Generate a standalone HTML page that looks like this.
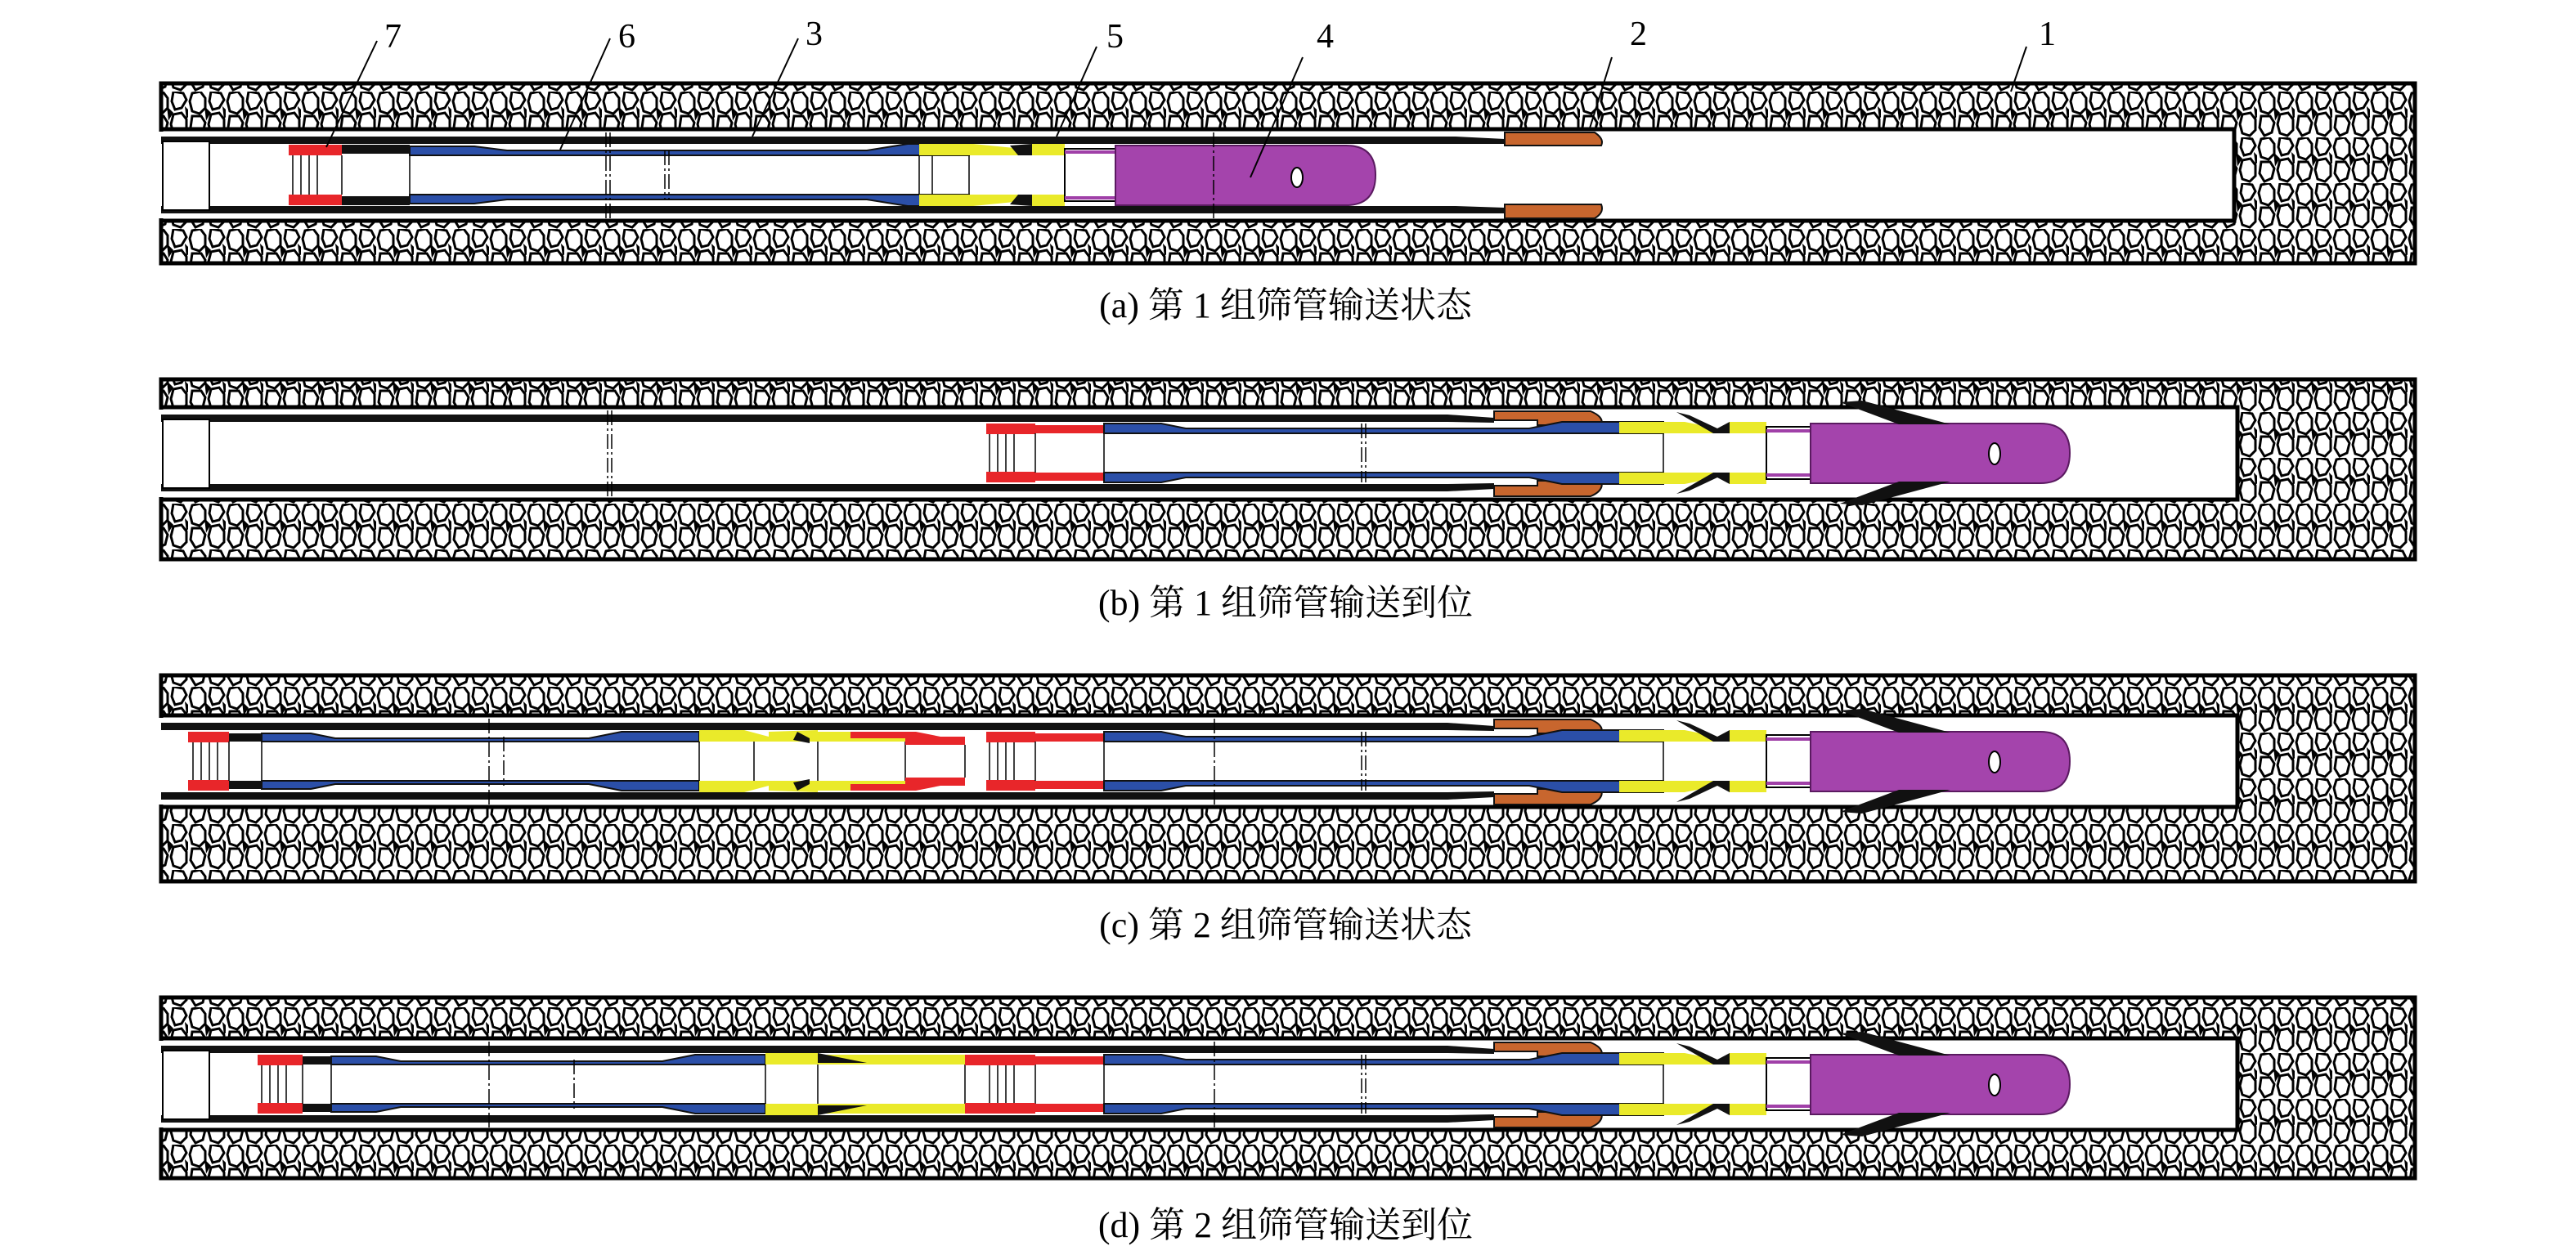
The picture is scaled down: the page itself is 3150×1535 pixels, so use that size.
<!DOCTYPE html>
<html><head><meta charset="utf-8"><style>
html,body{margin:0;padding:0;background:#fff;}
svg{display:block;}
.lbl{font-family:"Liberation Serif",serif;font-size:42px;fill:#000;}
.cap{font-family:"Liberation Serif","Noto Serif CJK SC",serif;font-size:44px;fill:#000;text-anchor:middle;}
</style></head><body>
<svg width="3150" height="1535" viewBox="0 0 3150 1535" xmlns="http://www.w3.org/2000/svg">
<defs>
<pattern id="rock" width="46" height="56" patternUnits="userSpaceOnUse">
<rect width="46" height="56" fill="#fff"/>
<path d="M5,2 L15,0 L21,8 L21,20 L14,27 L5,24 L2,12 Z M28,28 L38,26 L44,34 L44,47 L37,54 L28,51 L25,40 Z M28,0 L40,2 L44,10 L38,20 L30,22 L26,12 Z M5,30 L16,30 L21,38 L18,50 L9,54 L3,44 Z M22,22 L26,26 L23,31 Z M44,22 L48,26 L45,30 Z" fill="none" stroke="#000" stroke-width="3"/>
</pattern>
</defs>

<!-- ===== PANEL BOXES ===== -->
<rect x="197" y="102" width="2756" height="220" fill="url(#rock)" stroke="#000" stroke-width="5"/>
<rect x="197" y="158" width="2535" height="112" fill="#fff" stroke="#000" stroke-width="5"/>
<rect x="192" y="161" width="8" height="106" fill="#fff"/>
<rect x="197" y="464" width="2756" height="220" fill="url(#rock)" stroke="#000" stroke-width="5"/>
<rect x="197" y="498" width="2539" height="113" fill="#fff" stroke="#000" stroke-width="5"/>
<rect x="192" y="501" width="8" height="107" fill="#fff"/>
<rect x="197" y="826" width="2756" height="252" fill="url(#rock)" stroke="#000" stroke-width="5"/>
<rect x="197" y="875" width="2539" height="112" fill="#fff" stroke="#000" stroke-width="5"/>
<rect x="192" y="878" width="8" height="106" fill="#fff"/>
<rect x="197" y="1220" width="2756" height="221" fill="url(#rock)" stroke="#000" stroke-width="5"/>
<rect x="197" y="1270" width="2539" height="112" fill="#fff" stroke="#000" stroke-width="5"/>
<rect x="192" y="1273" width="8" height="106" fill="#fff"/>

<!-- ===== PANEL A (cy=214) ===== -->
<g transform="translate(0,214)">
<path d="M197,-47 L1780,-47 L1840,-44 L1840,-38 L1780,-38 L197,-38 Z" fill="#111"/>
<path d="M197,38 L1780,38 L1840,40 L1840,47 L1780,47 L197,47 Z" fill="#111"/>
<path d="M1840,-52 L1950,-52 Q1962,-44 1958,-36 L1840,-36 Z" fill="#c8662e" stroke="#111" stroke-width="2"/>
<path d="M1840,36 L1958,36 Q1962,46 1950,53 L1840,53 Z" fill="#c8662e" stroke="#111" stroke-width="2"/>
<rect x="199" y="-41" width="57" height="84" fill="#fff" stroke="#000" stroke-width="2"/>
<rect x="353" y="-37" width="65" height="13" fill="#e8262a"/><rect x="418" y="-37" width="83" height="11" fill="#111"/>
<rect x="353" y="24" width="65" height="13" fill="#e8262a"/><rect x="418" y="26" width="83" height="11" fill="#111"/>
<g stroke="#000" stroke-width="1.5"><line x1="358" y1="-24" x2="358" y2="24"/><line x1="368" y1="-24" x2="368" y2="24"/><line x1="378" y1="-24" x2="378" y2="24"/><line x1="388" y1="-24" x2="388" y2="24"/><line x1="418" y1="-24" x2="418" y2="24"/><line x1="501" y1="-26" x2="501" y2="26"/></g>
<path d="M501,-35 L580,-35 L620,-30 L1060,-30 L1110,-38 L1185,-38 L1185,-24 L501,-24 Z" fill="#2b4fa8" stroke="#111" stroke-width="2"/>
<path d="M501,35 L580,35 L620,30 L1060,30 L1110,38 L1185,38 L1185,24 L501,24 Z" fill="#2b4fa8" stroke="#111" stroke-width="2"/>
<g stroke="#000" stroke-width="1.5"><line x1="1124" y1="-24" x2="1124" y2="24"/><line x1="1140" y1="-24" x2="1140" y2="24"/><line x1="1185" y1="-24" x2="1185" y2="24"/></g>
<path d="M1124,-38 L1190,-38 L1250,-32 L1250,-24 L1124,-24 Z M1262,-38 L1302,-38 L1302,-24 L1262,-24 Z" fill="#eaea2a"/>
<path d="M1124,38 L1190,38 L1250,32 L1250,24 L1124,24 Z M1262,38 L1302,38 L1302,24 L1262,24 Z" fill="#eaea2a"/>
<path d="M1235,-36 L1262,-38 L1262,-24 L1245,-24 Z M1235,36 L1262,38 L1262,24 L1245,24 Z" fill="#111"/>
<rect x="1302" y="-32" width="62" height="64" fill="#fff" stroke="#000" stroke-width="2"/>
<line x1="1302" y1="-28" x2="1364" y2="-28" stroke="#a040a8" stroke-width="4"/><line x1="1302" y1="28" x2="1364" y2="28" stroke="#a040a8" stroke-width="4"/>
<path d="M1364,-36 L1646,-36 Q1682,-36 1682,0 Q1682,37 1646,37 L1364,37 Z" fill="#a444ac" stroke="#5a1a60" stroke-width="2"/>
<ellipse cx="1586" cy="3" rx="7" ry="12" fill="#fff" stroke="#000" stroke-width="2"/>
<g stroke="#000" stroke-width="1.5" stroke-dasharray="18 4 3 4"><line x1="741" y1="-52" x2="741" y2="54"/><line x1="746" y1="-52" x2="746" y2="54"/><line x1="813" y1="-30" x2="813" y2="30"/><line x1="818" y1="-30" x2="818" y2="30"/><line x1="1484" y1="-52" x2="1484" y2="54"/></g>
</g>

<g class="lbl">
<text x="470" y="58">7</text><text x="756" y="58">6</text><text x="985" y="55">3</text><text x="1353" y="58">5</text><text x="1610" y="58">4</text><text x="1993" y="55">2</text><text x="2493" y="55">1</text>
</g>
<g stroke="#000" stroke-width="2">
<line x1="461" y1="50" x2="399" y2="180"/><line x1="746" y1="47" x2="685" y2="183"/><line x1="976" y1="47" x2="920" y2="167"/><line x1="1341" y1="57" x2="1292" y2="167"/><line x1="1593" y1="70" x2="1529" y2="217"/><line x1="1971" y1="70" x2="1943" y2="160"/><line x1="2478" y1="57" x2="2459" y2="112"/>
</g>
<text class="cap" x="1572" y="388">(a) 第 1 组筛管输送状态</text>

<!-- PANEL B (cy=554) -->
<g transform="translate(0,554)">
<path d="M197,-47 L1770,-47 L1827,-43 L1827,-37 L1770,-38 L197,-38 Z" fill="#111"/>
<path d="M197,38 L1770,38 L1827,37 L1827,44 L1770,47 L197,47 Z" fill="#111"/>
<path d="M1827,-51 L1945,-51 Q1962,-44 1958,-34 L1880,-34 L1880,-40 L1827,-40 Z" fill="#c8662e" stroke="#111" stroke-width="2"/>
<path d="M1827,40 L1880,40 L1880,34 L1958,34 Q1962,46 1945,53 L1827,53 Z" fill="#c8662e" stroke="#111" stroke-width="2"/>
<rect x="199" y="-41" width="57" height="84" fill="#fff" stroke="#000" stroke-width="2"/>
<g id="front">
<rect x="1206" y="-36" width="60" height="13" fill="#e8262a"/><rect x="1266" y="-34" width="84" height="10" fill="#e8262a"/>
<rect x="1206" y="23" width="60" height="13" fill="#e8262a"/><rect x="1266" y="24" width="84" height="10" fill="#e8262a"/>
<g stroke="#000" stroke-width="1.5"><line x1="1210" y1="-23" x2="1210" y2="23"/><line x1="1220" y1="-23" x2="1220" y2="23"/><line x1="1230" y1="-23" x2="1230" y2="23"/><line x1="1240" y1="-23" x2="1240" y2="23"/><line x1="1266" y1="-24" x2="1266" y2="24"/><line x1="1350" y1="-25" x2="1350" y2="25"/><line x1="2034" y1="-25" x2="2034" y2="25"/><line x1="2160" y1="-25" x2="2160" y2="25"/><line x1="2214" y1="-25" x2="2214" y2="25"/></g>
<path d="M1350,-36 L1420,-36 L1450,-30 L1870,-30 L1910,-38 L2034,-38 L2034,-24 L1350,-24 Z" fill="#2b4fa8" stroke="#111" stroke-width="2"/>
<path d="M1350,36 L1420,36 L1450,30 L1870,30 L1910,38 L2034,38 L2034,24 L1350,24 Z" fill="#2b4fa8" stroke="#111" stroke-width="2"/>
<path d="M1980,-38 L2060,-38 L2100,-30 L2100,-24 L1980,-24 Z M2115,-38 L2160,-38 L2160,-24 L2115,-24 Z" fill="#eaea2a"/>
<path d="M1980,38 L2060,38 L2100,30 L2100,24 L1980,24 Z M2115,38 L2160,38 L2160,24 L2115,24 Z" fill="#eaea2a"/>
<path d="M2050,-50 L2066,-46 L2100,-30 L2115,-38 L2115,-24 L2095,-24 Z M2050,50 L2066,46 L2100,30 L2115,38 L2115,24 L2095,24 Z" fill="#111"/>
<rect x="2160" y="-32" width="54" height="64" fill="#fff" stroke="#000" stroke-width="2"/>
<line x1="2160" y1="-27" x2="2214" y2="-27" stroke="#a040a8" stroke-width="4"/><line x1="2160" y1="27" x2="2214" y2="27" stroke="#a040a8" stroke-width="4"/>
<path d="M2214,-36 L2495,-36 Q2531,-36 2531,0 Q2531,37 2495,37 L2214,37 Z" fill="#a444ac" stroke="#5a1a60" stroke-width="2"/>
<ellipse cx="2439" cy="1" rx="7" ry="13" fill="#fff" stroke="#000" stroke-width="2"/>
<polygon points="2250,-62 2277,-64 2385,-35 2322,-35" fill="#111"/>
<polygon points="2250,62 2277,64 2385,35 2322,35" fill="#111"/>
<g stroke="#000" stroke-width="1.5" stroke-dasharray="18 4 3 4"><line x1="1665" y1="-36" x2="1665" y2="36"/><line x1="1670" y1="-36" x2="1670" y2="36"/></g>
</g>
<g stroke="#000" stroke-width="1.5" stroke-dasharray="18 4 3 4"><line x1="743" y1="-52" x2="743" y2="54"/><line x1="748" y1="-52" x2="748" y2="54"/></g>
</g>
<text class="cap" x="1572" y="752">(b) 第 1 组筛管输送到位</text>

<!-- PANEL C (cy=931) -->
<g transform="translate(0,931)">
<path d="M197,-47 L1770,-47 L1827,-43 L1827,-37 L1770,-38 L197,-38 Z" fill="#111"/>
<path d="M197,38 L1770,38 L1827,37 L1827,44 L1770,47 L197,47 Z" fill="#111"/>
<path d="M1827,-51 L1945,-51 Q1962,-44 1958,-34 L1880,-34 L1880,-40 L1827,-40 Z" fill="#c8662e" stroke="#111" stroke-width="2"/>
<path d="M1827,40 L1880,40 L1880,34 L1958,34 Q1962,46 1945,53 L1827,53 Z" fill="#c8662e" stroke="#111" stroke-width="2"/>
<use href="#front"/>
<rect x="230" y="-36" width="50" height="13" fill="#e8262a"/><rect x="280" y="-34" width="40" height="10" fill="#111"/>
<rect x="230" y="23" width="50" height="13" fill="#e8262a"/><rect x="280" y="24" width="40" height="10" fill="#111"/>
<g stroke="#000" stroke-width="1.5"><line x1="236" y1="-23" x2="236" y2="23"/><line x1="246" y1="-23" x2="246" y2="23"/><line x1="256" y1="-23" x2="256" y2="23"/><line x1="266" y1="-23" x2="266" y2="23"/><line x1="280" y1="-24" x2="280" y2="24"/><line x1="320" y1="-25" x2="320" y2="25"/><line x1="855" y1="-25" x2="855" y2="25"/><line x1="922" y1="-25" x2="922" y2="25"/><line x1="1000" y1="-25" x2="1000" y2="25"/><line x1="1107" y1="-25" x2="1107" y2="25"/><line x1="1180" y1="-20" x2="1180" y2="20"/></g>
<path d="M320,-34 L380,-34 L410,-28 L720,-28 L760,-36 L855,-36 L855,-24 L320,-24 Z" fill="#2b4fa8" stroke="#111" stroke-width="2"/>
<path d="M320,34 L380,34 L410,28 L720,28 L760,36 L855,36 L855,24 L320,24 Z" fill="#2b4fa8" stroke="#111" stroke-width="2"/>
<path d="M855,-38 L910,-38 L940,-30 L940,-24 L855,-24 Z M1000,-36 L1107,-36 L1107,-24 L1000,-24 Z" fill="#eaea2a"/>
<path d="M855,38 L910,38 L940,30 L940,24 L855,24 Z M1000,36 L1107,36 L1107,24 L1000,24 Z" fill="#eaea2a"/>
<path d="M940,-36 L1000,-38 L1000,-24 L940,-24 Z M940,36 L1000,38 L1000,24 L940,24 Z" fill="#eaea2a"/>
<path d="M1040,-36 L1120,-36 L1150,-30 L1180,-30 L1180,-20 L1107,-20 L1107,-28 L1040,-28 Z" fill="#e8262a"/>
<path d="M1040,36 L1120,36 L1150,30 L1180,30 L1180,20 L1107,20 L1107,28 L1040,28 Z" fill="#e8262a"/>
<path d="M975,-36 L990,-28 L990,-22 L970,-26 Z M975,36 L990,28 L990,22 L970,26 Z" fill="#111"/>
<g stroke="#000" stroke-width="1.5" stroke-dasharray="18 4 3 4"><line x1="598" y1="-52" x2="598" y2="54"/><line x1="616" y1="-30" x2="616" y2="30"/><line x1="1485" y1="-52" x2="1485" y2="54"/></g>
</g>
<text class="cap" x="1572" y="1146">(c) 第 2 组筛管输送状态</text>

<!-- PANEL D (cy=1326) -->
<g transform="translate(0,1326)">
<path d="M197,-47 L1770,-47 L1827,-43 L1827,-37 L1770,-38 L197,-38 Z" fill="#111"/>
<path d="M197,38 L1770,38 L1827,37 L1827,44 L1770,47 L197,47 Z" fill="#111"/>
<path d="M1827,-51 L1945,-51 Q1962,-44 1958,-34 L1880,-34 L1880,-40 L1827,-40 Z" fill="#c8662e" stroke="#111" stroke-width="2"/>
<path d="M1827,40 L1880,40 L1880,34 L1958,34 Q1962,46 1945,53 L1827,53 Z" fill="#c8662e" stroke="#111" stroke-width="2"/>
<rect x="199" y="-41" width="57" height="84" fill="#fff" stroke="#000" stroke-width="2"/>
<use href="#front"/>
<rect x="315" y="-36" width="55" height="13" fill="#e8262a"/><rect x="370" y="-34" width="35" height="10" fill="#111"/>
<rect x="315" y="23" width="55" height="13" fill="#e8262a"/><rect x="370" y="24" width="35" height="10" fill="#111"/>
<g stroke="#000" stroke-width="1.5"><line x1="320" y1="-23" x2="320" y2="23"/><line x1="330" y1="-23" x2="330" y2="23"/><line x1="340" y1="-23" x2="340" y2="23"/><line x1="350" y1="-23" x2="350" y2="23"/><line x1="370" y1="-24" x2="370" y2="24"/><line x1="405" y1="-25" x2="405" y2="25"/><line x1="936" y1="-25" x2="936" y2="25"/><line x1="1000" y1="-25" x2="1000" y2="25"/><line x1="1180" y1="-25" x2="1180" y2="25"/></g>
<path d="M405,-34 L460,-34 L490,-28 L810,-28 L850,-36 L936,-36 L936,-24 L405,-24 Z" fill="#2b4fa8" stroke="#111" stroke-width="2"/>
<path d="M405,34 L460,34 L490,28 L810,28 L850,36 L936,36 L936,24 L405,24 Z" fill="#2b4fa8" stroke="#111" stroke-width="2"/>
<path d="M936,-38 L1000,-38 L1000,-24 L936,-24 Z M1000,-36 L1180,-36 L1180,-24 L1000,-24 Z" fill="#eaea2a"/>
<path d="M936,38 L1000,38 L1000,24 L936,24 Z M1000,36 L1180,36 L1180,24 L1000,24 Z" fill="#eaea2a"/>
<path d="M1000,-38 L1060,-26 L1000,-26 Z M1000,38 L1060,26 L1000,26 Z" fill="#111"/>
<rect x="1180" y="-36" width="86" height="13" fill="#e8262a"/><rect x="1180" y="23" width="86" height="13" fill="#e8262a"/>
<g stroke="#000" stroke-width="1.5" stroke-dasharray="18 4 3 4"><line x1="598" y1="-52" x2="598" y2="54"/><line x1="702" y1="-30" x2="702" y2="30"/><line x1="1485" y1="-52" x2="1485" y2="54"/></g>
</g>
<text class="cap" x="1572" y="1513">(d) 第 2 组筛管输送到位</text>
</svg>
</body></html>
